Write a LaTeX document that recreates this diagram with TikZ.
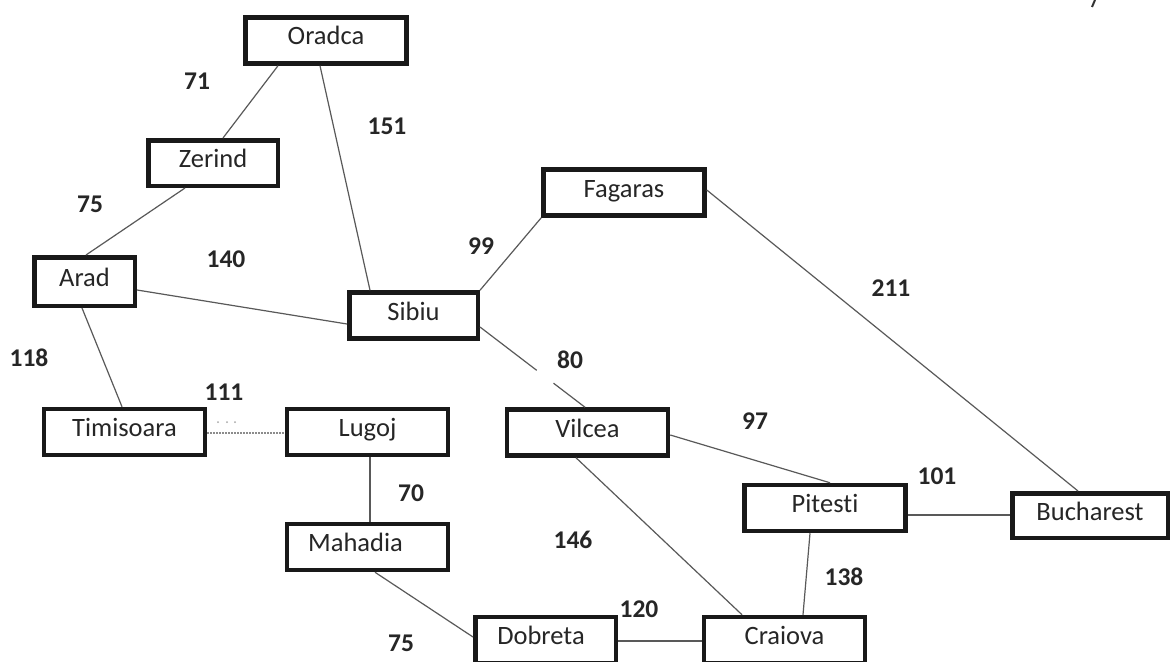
\documentclass[tikz,border=0pt]{standalone}
\usepackage{fontspec}
\setmainfont{Carlito}[Ligatures=NoCommon]
\usetikzlibrary{calc}
\tikzset{
  city/.style={draw=black!90, line width=4.5pt, minimum width=161pt, minimum height=46pt,
    inner sep=0pt, text height=18pt, text depth=9pt, font=\fontsize{26.5}{30}\selectfont, text=black!85},
  dist/.style={inner sep=0pt, font=\bfseries\fontsize{25.5}{30}\selectfont, text=black!85},
  road/.style={draw=black!65, line width=1.2pt}
}
\begin{document}
\begin{tikzpicture}[x=1pt,y=-1pt]
\useasboundingbox (0,0) rectangle (1172,661);
\clip (0,0) rectangle (1172,661);
\fill[white] (0,0) rectangle (1172,661);
\node[city] (oradca) at (326,40.5) {Oradca};
\node[city,minimum width=129.5pt,minimum height=45.5pt] (zerind) at (213,163) {Zerind};
\node[city] (fagaras) at (624,192.5) {Fagaras};
\node[city,minimum width=100.5pt,minimum height=48.5pt] (arad) at (84.5,281.5) {Arad};
\node[city,minimum width=128.5pt] (sibiu) at (413.5,315.5) {Sibiu};
\node[city] (timisoara) at (124.5,432) {Timisoara};
\node[city] (lugoj) at (367.5,432) {Lugoj};
\node[city] (vilcea) at (587.5,432.5) {Vilcea};
\node[city] (pitesti) at (825,508) {Pitesti};
\node[city,minimum width=155.5pt,minimum height=44.5pt] (bucharest) at (1090,515.5) {Bucharest};
\node[city] (mahadia) at (367.5,547) {Mahadia\hspace*{24pt}};
\node[city,minimum width=140.5pt] (dobreta) at (545.5,640) {Dobreta\hspace*{9pt}};
\node[city] (craiova) at (784.5,640) {Craiova};

\draw[road] ([xshift=-48pt]oradca.south) -- ([xshift=10pt]zerind.north);
\draw[road] ([xshift=-6pt]oradca.south) -- ([xshift=-43.5pt]sibiu.north);
\draw[road] ([xshift=-28pt]zerind.south) -- ([xshift=1.5pt]arad.north);
\draw[road] ([yshift=-8.5pt]arad.east) -- ([yshift=-8.5pt]sibiu.west);
\draw[road] ([xshift=-2.5pt]arad.south) -- ([xshift=-2.5pt]timisoara.north);
\draw[road,draw=black!45,line width=1.5pt,dash pattern=on 2pt off 1pt] ([yshift=-1pt]timisoara.east) -- ([yshift=-1pt]lugoj.west);
\draw[road] (sibiu.north east) -- (fagaras.south west);
\coordinate (sv1) at ([yshift=-11.5pt]sibiu.east);
\coordinate (sv2) at ([xshift=-2.5pt]vilcea.north);
\draw[road] (sv1) -- ($(sv1)!0.54!(sv2)$) ($(sv1)!0.7!(sv2)$) -- (sv2);
\draw[road] ([yshift=2.5pt]fagaras.east) -- ([xshift=-12pt]bucharest.north);
\draw[road] ([yshift=-2.5pt]vilcea.east) -- ([xshift=5pt]pitesti.north);
\draw[road] ([xshift=-11.5pt]vilcea.south) -- ([xshift=-42.5pt]craiova.north);
\draw[road] ([yshift=-7pt]pitesti.east) -- ([yshift=0.5pt]bucharest.west);
\draw[road] ([xshift=-15pt]pitesti.south) -- ([xshift=18.5pt]craiova.north);
\draw[road] ([xshift=2.5pt]lugoj.south) -- ([xshift=2.5pt]mahadia.north);
\draw[road] ([xshift=7.5pt]mahadia.south) -- ([yshift=3pt]dobreta.west);
\draw[road] ([yshift=-1pt]dobreta.east) -- ([yshift=-1pt]craiova.west);

\node[dist] (d71) at (197,81) {71};
\node[dist] (d151) at (387,126) {151};
\node[dist] (d75a) at (90,204) {75};
\node[dist] (d140) at (226,259) {140};
\node[dist] (d99) at (481,246) {99};
\node[dist] (d118) at (29,358) {118};
\node[dist] (d111) at (224,392) {111};
\node[dist] (d80) at (570,360) {80};
\node[dist] (d211) at (891,288) {211};
\node[dist] (d97) at (755,421) {97};
\node[dist] (d101) at (937,476) {101};
\node[dist] (d70) at (411,493) {70};
\node[dist] (d146) at (573,540) {146};
\node[dist] (d138) at (844,577) {138};
\node[dist] (d120) at (639,609) {120};
\node[dist] (d75b) at (401,643) {75};

\fill[black!35] (218,422) circle (1pt) (227,422) circle (1pt) (235,422) circle (1pt);
\draw[black!80,line width=2pt] (1092,7) -- (1095,0);
\end{tikzpicture}
\end{document}
